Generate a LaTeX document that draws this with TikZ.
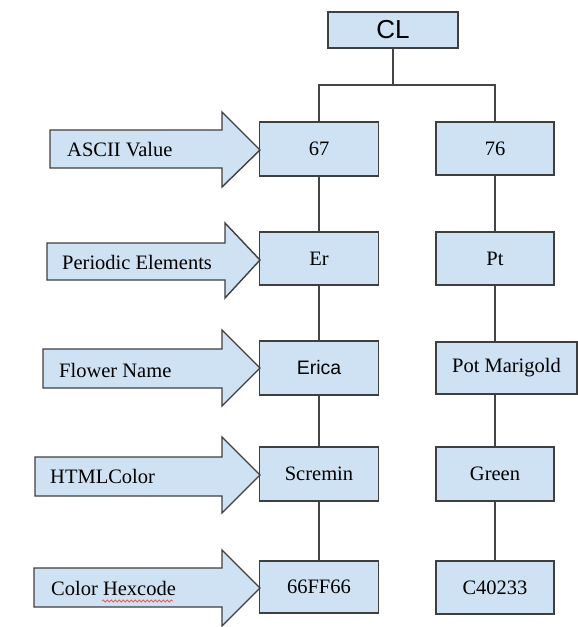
\documentclass[tikz,border=0pt]{standalone}
\usepackage{fontspec}
\setmainfont{Liberation Serif}
\newfontfamily\arialfont{Liberation Sans}
\usetikzlibrary{decorations.pathmorphing}
\definecolor{boxblue}{HTML}{CFE2F3}
\definecolor{edgegray}{HTML}{3F3F3F}
\definecolor{linegray}{HTML}{454545}
\definecolor{spellred}{HTML}{E06060}
\tikzset{
  box/.style={draw=edgegray, fill=boxblue, line width=1.4pt, inner sep=0pt,
    font=\fontsize{20.5}{24}\selectfont, text=black},
  cbox/.style={box, minimum width=119pt, minimum height=54pt},
  rbox/.style={box, minimum width=118pt, minimum height=53pt},
  arrowshape/.style={draw=edgegray, fill=boxblue, line width=1.4pt, line join=miter},
  arrowlabel/.style={anchor=west, inner sep=0pt, font=\fontsize{20.5}{24}\selectfont, text=black},
  conn/.style={draw=linegray, line width=1.5pt}
}
\begin{document}
\begin{tikzpicture}[x=1pt,y=-1pt]
\useasboundingbox[fill=white] (0,0) rectangle (578,627);

% root
\node[box, minimum width=130pt, minimum height=36pt, font=\arialfont\fontsize{26}{30}\selectfont] (CL) at (393,30) {CL};

% left column
\node[cbox] (b67) at (319,149) {67};
\node[cbox, minimum height=53pt] (er) at (319,258.5) {Er};
\node[cbox, font=\arialfont\fontsize{19.5}{22}\selectfont] (erica) at (319,368) {Erica};
\node[cbox] (scremin) at (319,474) {Scremin};
\node[cbox, minimum height=52pt] (hexa) at (319,587) {66FF66};

% right column
\node[rbox] (b76) at (495,148.5) {76};
\node[rbox] (pt) at (495,258.5) {Pt};
\node[box, minimum width=141pt, minimum height=52pt] (pot) at (506.5,368) {Pot Marigold};
\node[rbox, minimum height=54pt] (green) at (495,474) {Green};
\node[rbox] (hexb) at (495,587.5) {C40233};

% connectors
\coordinate (bus) at (393,85);
\draw[conn] (CL.south) -- (bus);
\draw[conn] (b67.north) |- (bus) -| (b76.north);
\draw[conn] (b67.south) -- (er.north);
\draw[conn] (er.south) -- (erica.north);
\draw[conn] (erica.south) -- (scremin.north);
\draw[conn] (scremin.south) -- (hexa.north);
\draw[conn] (b76.south) -- (pt.north);
\draw[conn] (pt.south) -- (pot.north -| pt.south);
\draw[conn] (pot.south -| green.north) -- (green.north);
\draw[conn] (green.south) -- (hexb.north);

% block arrows
\draw[arrowshape] (50,130) -- (222,130) -- (222,112) -- (260,150) -- (222,187) -- (222,168) -- (50,168) -- cycle;
\node[arrowlabel] (l1) at (67,150) {ASCII Value};

\draw[arrowshape] (47,243) -- (225,243) -- (225,223) -- (260,260) -- (225,298) -- (225,280) -- (47,280) -- cycle;
\node[arrowlabel] (l2) at (62,262) {Periodic Elements};

\draw[arrowshape] (43,349) -- (222,349) -- (222,330) -- (260,368) -- (222,406) -- (222,388) -- (43,388) -- cycle;
\node[arrowlabel] (l3) at (59,370) {Flower Name};

\draw[arrowshape] (35,457) -- (222,457) -- (222,437) -- (260,475) -- (222,513) -- (222,496) -- (35,496) -- cycle;
\node[arrowlabel] (l4) at (50,476) {HTMLColor};

\draw[arrowshape] (34,568) -- (222,568) -- (222,550) -- (260,588) -- (222,626) -- (222,607) -- (34,607) -- cycle;
\node[arrowlabel] (l5) at (51,588) {Color Hexcode};
\draw[spellred, line width=0.8pt, decorate, decoration={snake, amplitude=1pt, segment length=4pt}] (102,601) -- (173,601);
\end{tikzpicture}
\end{document}
